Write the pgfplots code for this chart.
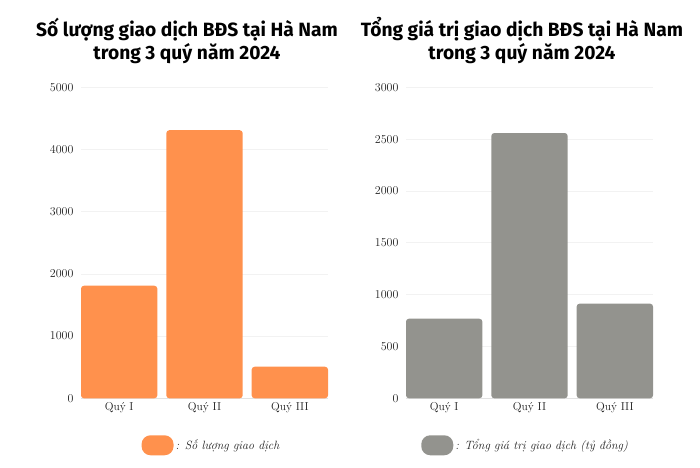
\documentclass[border=0pt]{standalone}
\usepackage{fontspec}
\usepackage{pgfplots}
\pgfplotsset{compat=1.18}
\newfontfamily\titlefont{Fira Sans}
\definecolor{barorange}{HTML}{FF914D}
\definecolor{bargrey}{HTML}{93938E}
\definecolor{gridc}{HTML}{F2F2F2}
\definecolor{linec}{HTML}{E2E2E2}
\definecolor{tickc}{HTML}{222222}
\pgfplotsset{
  mybar/.style={
    scale only axis, width=247pt, height=311pt,
    xmin=-0.447, xmax=2.447, ymin=0,
    xtick={0,1,2}, xticklabels={Quý I, Quý II, Quý III},
    axis x line*=bottom, axis y line*=left,
    x axis line style={draw=linec, -},
    y axis line style={draw=none},
    major tick length=0pt, tick style={draw=none},
    ymajorgrids, grid style={draw=gridc, line width=0.8pt},
    scaled y ticks=false,
    /pgf/number format/1000 sep={},
    xticklabel style={font=\fontsize{11.5}{12}\selectfont, text=tickc, yshift=-1pt},
    yticklabel style={font=\fontsize{12.5}{13}\selectfont, text=tickc, xshift=-4pt},
    ybar, bar width=0.895,
    title style={align=center, font=\titlefont\bfseries\fontsize{19.2}{23.5}\selectfont, yshift=14pt},
    legend style={draw=none, fill=none, font=\itshape\fontsize{12}{14}\selectfont, text=tickc, anchor=center},
  }
}
\begin{document}
\begin{tikzpicture}
\useasboundingbox (0,0) rectangle (700pt,467pt);
\begin{axis}[mybar,
  at={(81pt,68.7pt)}, anchor=south west,
  ymax=5000, ytick distance=1000,
  title={Số lượng giao dịch BĐS tại Hà Nam\\trong 3 quý năm 2024},
  title style={xshift=-17.5pt},
  legend style={at={(0.528,-0.151)}},
]
\addplot[fill=barorange, draw=none, rounded corners=3pt,
  legend image code/.code={\fill[barorange, rounded corners=9pt] (0pt,-10pt) rectangle (32pt,10pt);}]
  coordinates {(0,1810) (1,4310) (2,508)};
\addlegendentry{: Số lượng giao dịch}
\end{axis}
\begin{axis}[mybar,
  at={(406pt,68.7pt)}, anchor=south west,
  ymax=3000, ytick distance=500,
  title={Tổng giá trị giao dịch BĐS tại Hà Nam\\trong 3 quý năm 2024},
  title style={xshift=-7.5pt},
  legend style={at={(0.484,-0.151)}},
]
\addplot[fill=bargrey, draw=none, rounded corners=3pt,
  legend image code/.code={\fill[bargrey, rounded corners=9pt] (0pt,-10pt) rectangle (32pt,10pt);}]
  coordinates {(0,768) (1,2559) (2,913)};
\addlegendentry{: Tổng giá trị giao dịch (tỷ đồng)}
\end{axis}
\end{tikzpicture}
\end{document}
